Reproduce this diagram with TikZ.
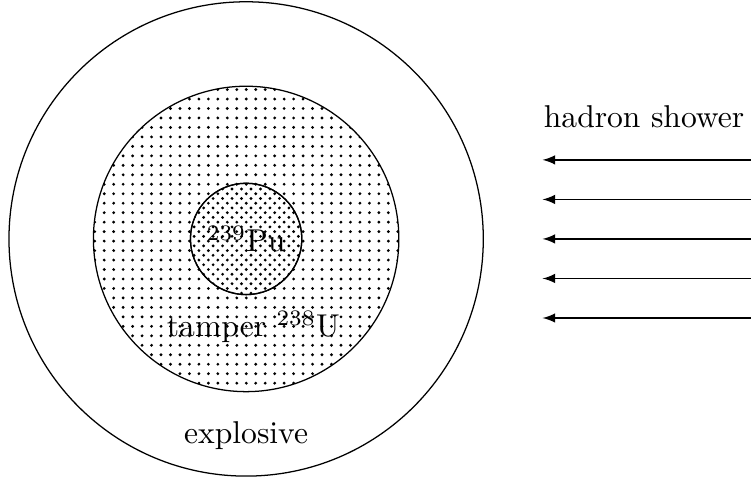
\documentclass[tikz,border=0pt]{standalone}
\usepackage{amsmath,amssymb}
\usepackage{tikz}
\usetikzlibrary{patterns}

\begin{document}
\begin{tikzpicture}[>=latex]
  \useasboundingbox (-2.74,-2.66) rectangle (5.62,2.66);
  \draw
    (0,0) circle (2.64);
  \filldraw[pattern=dots]
    (0,0) circle (1.70);
  \filldraw[fill=white]
    (0,0) circle (0.62);
  \draw[pattern=crosshatch dots]
    (0,0) circle (0.62);
  \node (pu) at (0,0) {$^{239}$Pu};
  \node (tamper) at (0.08,-0.98) {tamper $^{238}$U};
  \node (explosive) at (0,-2.19) {explosive};
  \node (shower) at (4.43,1.36) {hadron shower};
  \coordinate (s1) at (5.62,0.88);
  \coordinate (e1) at (3.30,0.88);
  \coordinate (s2) at (5.62,0.44);
  \coordinate (e2) at (3.30,0.44);
  \coordinate (s3) at (5.62,0);
  \coordinate (e3) at (3.30,0);
  \coordinate (s4) at (5.62,-0.44);
  \coordinate (e4) at (3.30,-0.44);
  \coordinate (s5) at (5.62,-0.88);
  \coordinate (e5) at (3.30,-0.88);
  \draw[->]
    (s1) -- (e1);
  \draw[->]
    (s2) -- (e2);
  \draw[->]
    (s3) -- (e3);
  \draw[->]
    (s4) -- (e4);
  \draw[->]
    (s5) -- (e5);
\end{tikzpicture}
\end{document}
